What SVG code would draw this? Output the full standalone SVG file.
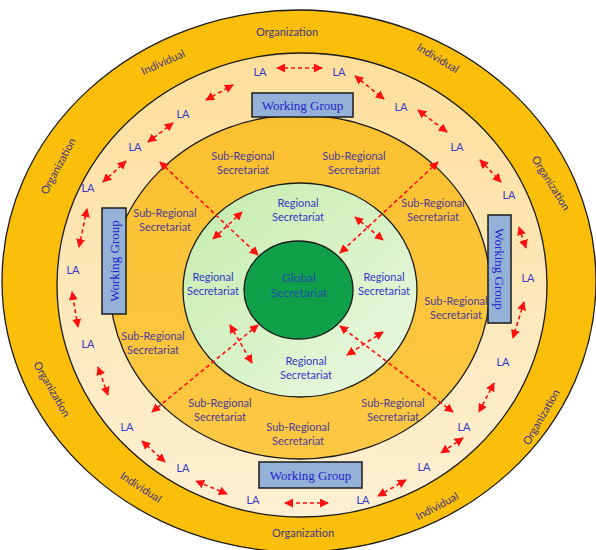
<svg xmlns="http://www.w3.org/2000/svg" width="596" height="550" viewBox="0 0 596 550">
<defs>
<style>
.ring{stroke:#1a1a1a;stroke-width:1.3}
.t{font-family:Lato,"Open Sans","Liberation Sans",sans-serif;font-size:11px;text-anchor:middle}
.org{fill:#3d3585;font-size:11px}
.sub{fill:#4a3c98}
.reg{fill:#3535c8}
.la{fill:#3838c8;font-size:11px}
.glob{fill:#1f4fa8;font-size:12px}
.wgbox{fill:#94b2d8;stroke:#1a1a1a;stroke-width:1.5}
.wgt{font-family:"Liberation Serif","Times New Roman",serif;font-size:13px;fill:#2222cc;text-anchor:middle}
.arr{stroke:#ff1010;stroke-width:1.6;stroke-dasharray:4 3;fill:none;marker-start:url(#ah);marker-end:url(#ah)}
</style>
<marker id="ah" viewBox="0 0 10 10" refX="9" refY="5" markerWidth="9" markerHeight="9" markerUnits="userSpaceOnUse" orient="auto-start-reverse">
<path d="M0,0 L10,5 L0,10 z" fill="#ff1010"/>
</marker>
<linearGradient id="cream" x1="0" y1="0" x2="0" y2="1">
<stop offset="0" stop-color="#fddf9c"/>
<stop offset="1" stop-color="#fef0d4"/>
</linearGradient>
<linearGradient id="subg" x1="0" y1="0" x2="0" y2="1">
<stop offset="0" stop-color="#fbc030"/>
<stop offset="1" stop-color="#fcc844"/>
</linearGradient>
<linearGradient id="green" x1="0" y1="0" x2="1" y2="1">
<stop offset="0" stop-color="#c2ecaa"/>
<stop offset="1" stop-color="#edf9e4"/>
</linearGradient>
</defs>
<rect width="596" height="550" fill="#ffffff"/>
<g id="ring-organization">
<ellipse class="ring" cx="299" cy="281" rx="297" ry="271" fill="#fbbf0a"/>
<text class="t org" x="287" y="36">Organization</text>
<text class="t org" x="303" y="537">Organization</text>
<text class="t org" transform="translate(58,166) rotate(-62)" y="4">Organization</text>
<text class="t org" transform="translate(551,183) rotate(58)" y="4">Organization</text>
<text class="t org" transform="translate(52,389) rotate(60)" y="4">Organization</text>
<text class="t org" transform="translate(541,417) rotate(-60)" y="4">Organization</text>
<text class="t org" transform="translate(163,62) rotate(-24)" y="4">Individual</text>
<text class="t org" transform="translate(438,58) rotate(31)" y="4">Individual</text>
<text class="t org" transform="translate(141,487) rotate(33)" y="4">Individual</text>
<text class="t org" transform="translate(437,506) rotate(-28)" y="4">Individual</text>
</g>
<g id="ring-la">
<ellipse class="ring" cx="302" cy="285" rx="245" ry="232" fill="url(#cream)"/>
</g>
<g id="ring-subregional">
<ellipse class="ring" cx="300" cy="287" rx="190" ry="172" fill="url(#subg)"/>
<text class="t sub" x="243" y="160">Sub-Regional<tspan x="243" dy="14">Secretariat</tspan></text>
<text class="t sub" x="354" y="160">Sub-Regional<tspan x="354" dy="14">Secretariat</tspan></text>
<text class="t sub" x="433" y="207">Sub-Regional<tspan x="433" dy="14">Secretariat</tspan></text>
<text class="t sub" x="165" y="217">Sub-Regional<tspan x="165" dy="14">Secretariat</tspan></text>
<text class="t sub" x="153" y="340">Sub-Regional<tspan x="153" dy="14">Secretariat</tspan></text>
<text class="t sub" x="456" y="305">Sub-Regional<tspan x="456" dy="14">Secretariat</tspan></text>
<text class="t sub" x="220" y="407">Sub-Regional<tspan x="220" dy="14">Secretariat</tspan></text>
<text class="t sub" x="393" y="407">Sub-Regional<tspan x="393" dy="14">Secretariat</tspan></text>
<text class="t sub" x="298" y="431">Sub-Regional<tspan x="298" dy="14">Secretariat</tspan></text>
</g>
<g id="ring-regional">
<ellipse class="ring" cx="300" cy="290" rx="117" ry="107" fill="url(#green)"/>
<text class="t reg" x="298" y="207">Regional<tspan x="298" dy="13.5">Secretariat</tspan></text>
<text class="t reg" x="213" y="281">Regional<tspan x="213" dy="13.5">Secretariat</tspan></text>
<text class="t reg" x="384" y="281">Regional<tspan x="384" dy="13.5">Secretariat</tspan></text>
<text class="t reg" x="306" y="365">Regional<tspan x="306" dy="13.5">Secretariat</tspan></text>
</g>
<g id="global-secretariat">
<ellipse class="ring" cx="298.5" cy="290" rx="54.5" ry="49" fill="#10a04a" stroke-width="1.6"/>
<text class="t glob" x="299" y="282">Global<tspan x="299" dy="15">Secretariat</tspan></text>
</g>
<g id="wg-top"><rect class="wgbox" x="252" y="93" width="101" height="24"/><text class="wgt" x="302.5" y="109.5">Working Group</text></g>
<g id="wg-bottom"><rect class="wgbox" x="259" y="462" width="103" height="26"/><text class="wgt" x="310.5" y="479.5">Working Group</text></g>
<g id="wg-left"><rect class="wgbox" x="102" y="208" width="24" height="106"/><text class="wgt" transform="translate(114,261) rotate(-90)" y="4.5">Working Group</text></g>
<g id="wg-right"><rect class="wgbox" x="488" y="215" width="23" height="108"/><text class="wgt" transform="translate(499.5,269) rotate(90)" y="4.5">Working Group</text></g>
<g id="la-nodes">
<text class="t la" x="260" y="76">LA</text>
<text class="t la" x="339" y="76">LA</text>
<text class="t la" x="401" y="111">LA</text>
<text class="t la" x="457" y="151">LA</text>
<text class="t la" x="509" y="199">LA</text>
<text class="t la" x="528" y="282">LA</text>
<text class="t la" x="503" y="366">LA</text>
<text class="t la" x="464" y="431">LA</text>
<text class="t la" x="424" y="471">LA</text>
<text class="t la" x="363" y="504">LA</text>
<text class="t la" x="253" y="504">LA</text>
<text class="t la" x="183" y="472">LA</text>
<text class="t la" x="127" y="431">LA</text>
<text class="t la" x="88" y="348">LA</text>
<text class="t la" x="73" y="274">LA</text>
<text class="t la" x="88" y="192">LA</text>
<text class="t la" x="135" y="151">LA</text>
<text class="t la" x="183" y="118">LA</text>
</g>
<g id="connectors">
<line class="arr" x1="277" y1="68" x2="322" y2="68"/>
<line class="arr" x1="355" y1="76" x2="384" y2="99"/>
<line class="arr" x1="418" y1="110" x2="447" y2="132"/>
<line class="arr" x1="480" y1="160" x2="501" y2="182"/>
<line class="arr" x1="519" y1="227" x2="526" y2="248"/>
<line class="arr" x1="524" y1="302" x2="513" y2="338"/>
<line class="arr" x1="494" y1="383" x2="479" y2="412"/>
<line class="arr" x1="463" y1="438" x2="441" y2="453"/>
<line class="arr" x1="406" y1="480" x2="378" y2="496"/>
<line class="arr" x1="328" y1="503" x2="285" y2="503"/>
<line class="arr" x1="227" y1="494" x2="196" y2="481"/>
<line class="arr" x1="165" y1="462" x2="142" y2="441"/>
<line class="arr" x1="108" y1="395" x2="98" y2="367"/>
<line class="arr" x1="78" y1="327" x2="72" y2="292"/>
<line class="arr" x1="79" y1="247" x2="87" y2="209"/>
<line class="arr" x1="103" y1="182" x2="126" y2="161"/>
<line class="arr" x1="148" y1="142" x2="173" y2="123"/>
<line class="arr" x1="206" y1="100" x2="233" y2="85"/>
<line class="arr" x1="160" y1="162" x2="258" y2="255"/>
<line class="arr" x1="438" y1="162" x2="340" y2="253"/>
<line class="arr" x1="152" y1="412" x2="258" y2="325"/>
<line class="arr" x1="453" y1="412" x2="340" y2="326"/>
<line class="arr" x1="242" y1="212" x2="213" y2="239"/>
<line class="arr" x1="355" y1="217" x2="383" y2="240"/>
<line class="arr" x1="230" y1="325" x2="252" y2="363"/>
<line class="arr" x1="383" y1="332" x2="347" y2="355"/>
</g>
</svg>
